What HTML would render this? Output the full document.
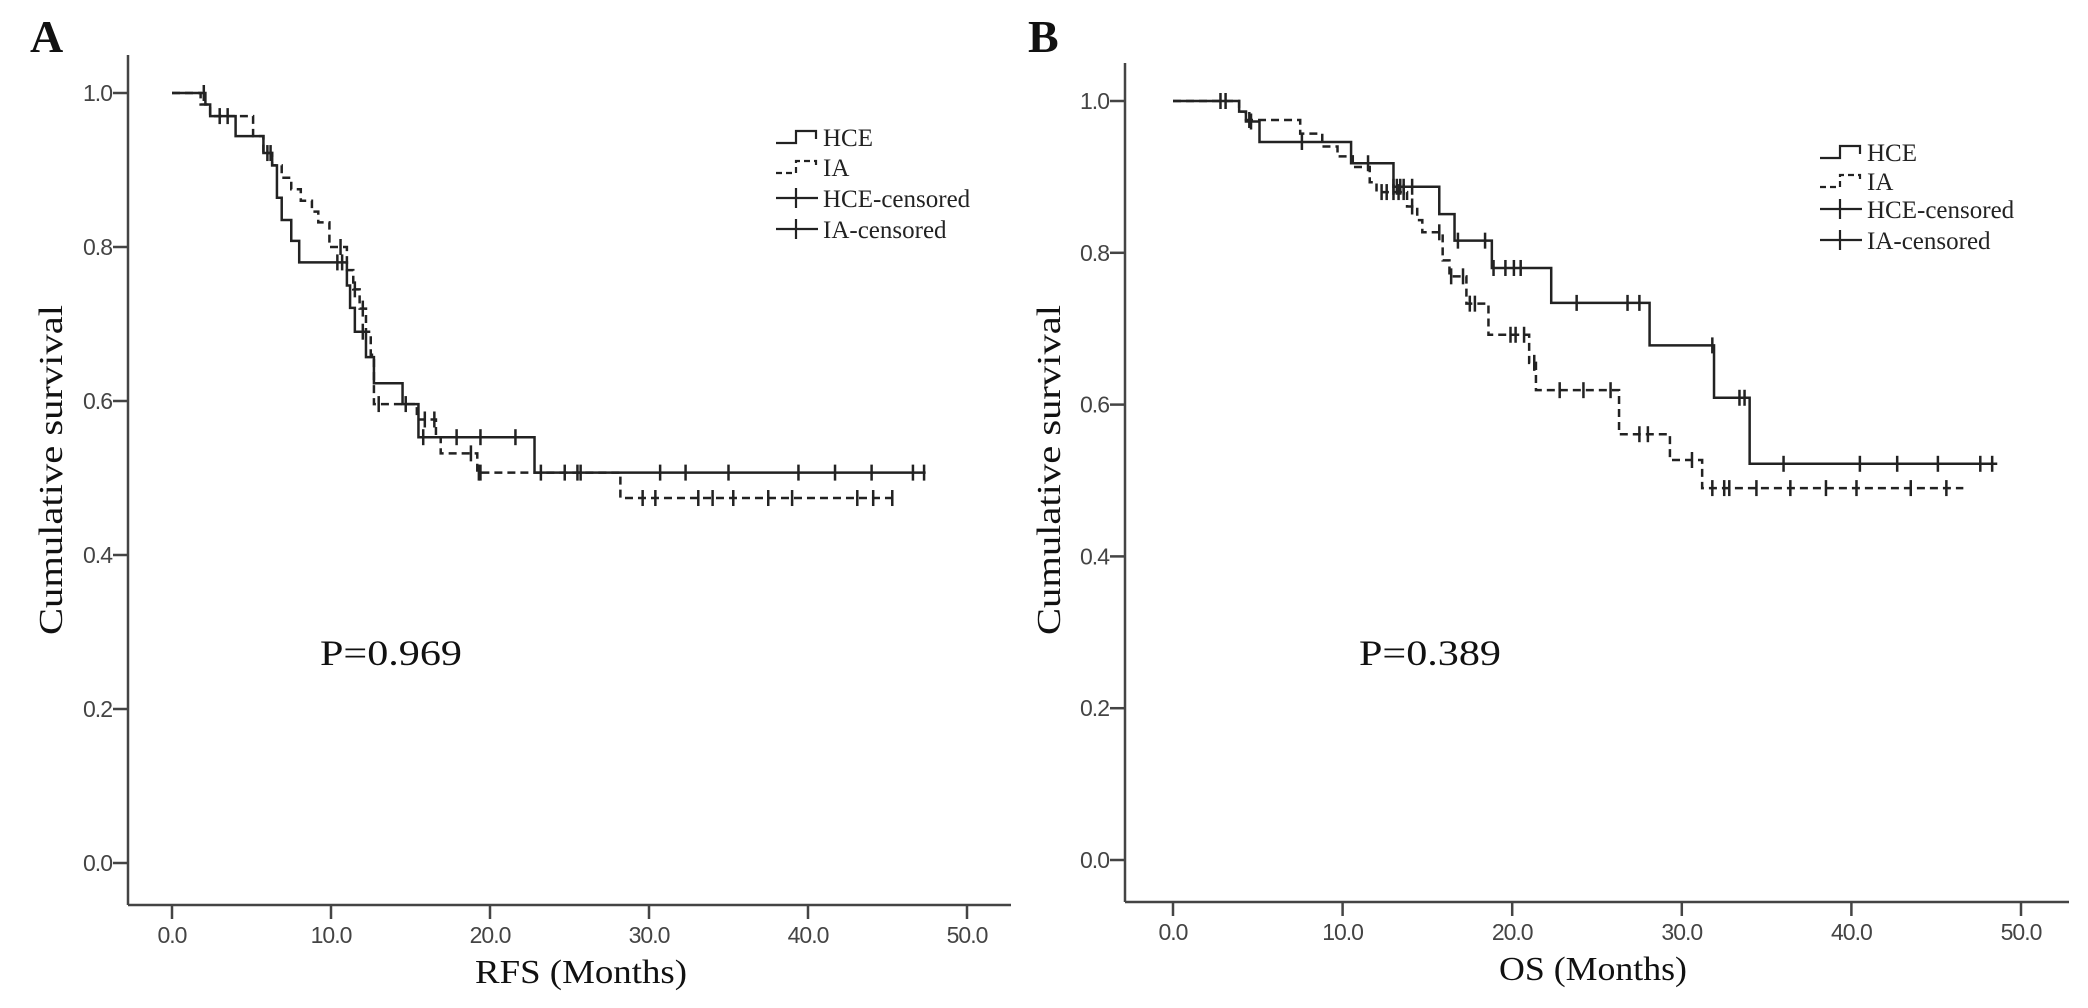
<!DOCTYPE html>
<html><head><meta charset="utf-8">
<style>
html,body{margin:0;padding:0;background:#fff;}
svg{display:block;}
</style></head>
<body>
<svg id="chart" width="2088" height="1008" viewBox="0 0 2088 1008" xmlns="http://www.w3.org/2000/svg">
<rect x="0" y="0" width="2088" height="1008" fill="#fff"/>
<g id="panelA"></g>
<g id="panelB"></g>
</svg>
<script>
// ---- Panel A (RFS) data ----
const xTicks = [0, 10, 20, 30, 40, 50];
const xTickLabels = ["0.0", "10.0", "20.0", "30.0", "40.0", "50.0"];
const yTicks = [0, 0.2, 0.4, 0.6, 0.8, 1.0];
const yTickLabels = ["0.0", "0.2", "0.4", "0.6", "0.8", "1.0"];

const aHceTimes = [2.1, 2.4, 4.0, 5.75, 6.3, 6.6, 6.9, 7.5, 8.0, 11.0, 11.2, 11.5, 12.2, 12.7, 14.5, 15.5, 22.8];
const aHceValues = [0.985, 0.970, 0.944, 0.922, 0.906, 0.864, 0.835, 0.808, 0.780, 0.750, 0.721, 0.690, 0.657, 0.623, 0.596, 0.553, 0.507];
const aHceCensor = [2.0, 3.5, 6.2, 10.4, 10.7, 12.0, 14.7, 15.8, 17.9, 19.4, 21.6, 23.2, 24.7, 30.7, 32.3, 35.0, 39.4, 41.7, 44.0, 46.6, 47.3];
const aHceEnd = 47.4;
const aIaTimes = [1.8, 2.4, 5.1, 5.75, 6.3, 6.9, 7.5, 8.1, 8.8, 9.2, 9.9, 11.0, 11.4, 11.8, 12.2, 12.5, 12.7, 15.4, 16.6, 16.9, 19.2, 28.2];
const aIaValues = [0.985, 0.970, 0.944, 0.922, 0.906, 0.890, 0.875, 0.860, 0.846, 0.832, 0.800, 0.770, 0.745, 0.720, 0.690, 0.660, 0.596, 0.576, 0.553, 0.532, 0.507, 0.474];
const aIaCensor = [3.0, 6.0, 10.6, 11.5, 12.0, 13.0, 15.9, 16.5, 18.8, 19.3, 19.4, 25.5, 25.7, 29.6, 30.4, 33.1, 34.0, 35.3, 37.5, 39.0, 43.1, 44.1, 45.3];
const aIaEnd = 45.5;

// ---- Panel B (OS) data ----
const bHceTimes = [3.9, 4.3, 5.1, 10.5, 13.0, 15.7, 16.6, 18.8, 22.3, 28.1, 31.9, 34.0];
const bHceValues = [0.986, 0.973, 0.946, 0.918, 0.887, 0.851, 0.816, 0.780, 0.734, 0.678, 0.609, 0.522];
const bHceCensor = [2.8, 3.1, 4.6, 7.6, 11.5, 13.0, 13.2, 13.4, 13.6, 14.1, 16.8, 18.4, 18.9, 19.6, 20.1, 20.5, 23.8, 26.8, 27.5, 31.8, 33.4, 33.7, 36.0, 40.5, 42.7, 45.1, 47.6, 48.3];
const bHceEnd = 48.6;
const bIaTimes = [3.9, 4.3, 7.5, 8.8, 9.7, 10.6, 11.6, 12.0, 13.8, 14.4, 14.7, 15.9, 16.3, 17.3, 18.6, 21.0, 21.4, 26.3, 29.3, 31.2];
const bIaValues = [0.986, 0.975, 0.957, 0.940, 0.927, 0.913, 0.893, 0.880, 0.861, 0.843, 0.827, 0.790, 0.769, 0.733, 0.692, 0.655, 0.619, 0.561, 0.527, 0.490];
const bIaCensor = [4.5, 12.3, 12.6, 13.0, 13.3, 13.6, 14.1, 15.7, 16.4, 17.1, 17.5, 17.8, 19.9, 20.2, 20.7, 21.3, 22.8, 24.2, 25.8, 27.5, 28.0, 30.6, 31.8, 32.5, 32.8, 34.4, 36.4, 38.5, 40.3, 43.5, 45.6];
const bIaEnd = 46.6;

const NS = "http://www.w3.org/2000/svg";
function mk(tag, attrs, parent) {
  const e = document.createElementNS(NS, tag);
  for (const k in attrs) e.setAttribute(k, attrs[k]);
  parent.appendChild(e);
  return e;
}
function survAt(times, values, t) {
  let v = 1.0;
  for (let i = 0; i < times.length; i++) if (times[i] <= t) v = values[i];
  return v;
}

function drawPanel(g, cfg) {
  const sx = t => cfg.x0 + (t / 50) * (cfg.x50 - cfg.x0);
  const sy = v => cfg.y0 + v * (cfg.y1 - cfg.y0);
  // axes
  const ya = mk("line", {x1: cfg.axX, y1: cfg.axTop, x2: cfg.axX, y2: cfg.axY, stroke: "#444", "stroke-width": 2.5}, g);
  
  
  const xa = mk("line", {x1: cfg.axX, y1: cfg.axY, x2: cfg.axRight, y2: cfg.axY, stroke: "#444", "stroke-width": 2.5}, g);
  
  
  xTicks.forEach((t, i) => {
    const tk = mk("line", {x1: sx(t), y1: cfg.axY, x2: sx(t), y2: cfg.axY + 14, stroke: "#444", "stroke-width": 2.5}, g);
    
    
    const tl = mk("text", {x: sx(t), y: cfg.axY + 38, "text-anchor": "middle", "font-family": "Liberation Sans, sans-serif", "font-size": 23, fill: "#444", "letter-spacing": "-1"}, g);
    tl.textContent = xTickLabels[i];
    
    
  });
  yTicks.forEach((v, i) => {
    const tk = mk("line", {x1: cfg.axX - 15, y1: sy(v), x2: cfg.axX, y2: sy(v), stroke: "#444", "stroke-width": 2.5}, g);
    
    
    const tl = mk("text", {x: cfg.axX - 16, y: sy(v) + 8, "text-anchor": "end", "font-family": "Liberation Sans, sans-serif", "font-size": 23, fill: "#444", "letter-spacing": "-1"}, g);
    tl.textContent = yTickLabels[i];
    
    
  });
  // curves
  cfg.series.forEach(s => {
    let d = "M" + sx(0) + "," + sy(1);
    let prev = 1;
    for (let i = 0; i < s.times.length; i++) {
      d += " H" + sx(s.times[i]) + " V" + sy(s.values[i]);
      prev = s.values[i];
    }
    d += " H" + sx(s.end);
    const p = mk("path", {d: d, fill: "none", stroke: "#222", "stroke-width": 2.5}, g);
    if (s.dash) p.setAttribute("stroke-dasharray", "8,5");
    
    
    s.censor.forEach(t => {
      const yv = sy(survAt(s.times, s.values, t));
      const c = mk("line", {x1: sx(t), y1: yv - 8, x2: sx(t), y2: yv + 8, stroke: "#222", "stroke-width": 2.5}, g);
      
      
    });
  });
  // labels
  const letter = mk("text", {x: cfg.letterX, y: cfg.letterY, "font-family": "Liberation Serif, serif", "font-size": 46, "font-weight": "bold", fill: "#111"}, g);
  letter.textContent = cfg.letter;
  
  
  const xt = mk("text", {x: cfg.xTitleX, y: cfg.xTitleY, "text-anchor": "middle", "font-family": "Liberation Serif, serif", "font-size": 34, fill: "#111", textLength: cfg.xTitleLen, lengthAdjust: "spacingAndGlyphs"}, g);
  xt.textContent = cfg.xTitle;
  
  
  const yt = mk("text", {x: 0, y: 0, "text-anchor": "middle", "font-family": "Liberation Serif, serif", "font-size": 34, fill: "#111", textLength: 330, lengthAdjust: "spacingAndGlyphs", transform: "translate(" + cfg.yTitleX + "," + cfg.yTitleY + ") rotate(-90)"}, g);
  yt.textContent = "Cumulative survival";
  
  
  const pv = mk("text", {x: cfg.pX, y: cfg.pY, "font-family": "Liberation Serif, serif", "font-size": 36, fill: "#111", textLength: 142, lengthAdjust: "spacingAndGlyphs"}, g);
  pv.textContent = cfg.pText;
  
  
  // legend
  const L = cfg.legend;
  const names = ["HCE", "IA", "HCE-censored", "IA-censored"];
  names.forEach((nm, i) => {
    const y = L.rows[i];
    const x1 = L.x, x2 = L.x + 42;
    let sym;
    if (i < 2) {
      sym = mk("path", {d: "M" + x1 + "," + (y + 6) + " H" + (x1 + 20) + " V" + (y - 6) + " H" + (x2 - 2) + " V" + (y + 2), fill: "none", stroke: "#222", "stroke-width": 2.2}, g);
      if (i === 1) sym.setAttribute("stroke-dasharray", "6,4");
    } else {
      sym = mk("path", {d: "M" + x1 + "," + y + " H" + x2 + " M" + (x1 + 20) + "," + (y - 10) + " V" + (y + 10), fill: "none", stroke: "#222", "stroke-width": 2.2}, g);
    }
    
    
    const t = mk("text", {x: L.x + 47, y: y + 9, "font-family": "Liberation Serif, serif", "font-size": 25, fill: "#222"}, g);
    t.textContent = nm;
    
    
  });
}

drawPanel(document.getElementById("panelA"), {
  x0: 172, x50: 967, y0: 863, y1: 93, axX: 128, axY: 905, axTop: 55, axRight: 1011,
  letter: "A", letterX: 30, letterY: 52,
  xTitle: "RFS (Months)", xTitleX: 581, xTitleY: 983, xTitleLen: 212,
  yTitleX: 62, yTitleY: 470,
  pText: "P=0.969", pX: 320, pY: 665,
  legend: {x: 776, rows: [137, 167, 198, 229]},
  series: [
    {name: "hce", times: aHceTimes, values: aHceValues, censor: aHceCensor, end: aHceEnd, dash: false},
    {name: "ia", times: aIaTimes, values: aIaValues, censor: aIaCensor, end: aIaEnd, dash: true}
  ]
});
drawPanel(document.getElementById("panelB"), {
  x0: 1173, x50: 2021, y0: 860, y1: 101, axX: 1125, axY: 902, axTop: 63, axRight: 2069,
  letter: "B", letterX: 1028, letterY: 52,
  xTitle: "OS (Months)", xTitleX: 1593, xTitleY: 980, xTitleLen: 188,
  yTitleX: 1060, yTitleY: 470,
  pText: "P=0.389", pX: 1359, pY: 665,
  legend: {x: 1820, rows: [152, 181, 209, 240]},
  series: [
    {name: "hce", times: bHceTimes, values: bHceValues, censor: bHceCensor, end: bHceEnd, dash: false},
    {name: "ia", times: bIaTimes, values: bIaValues, censor: bIaCensor, end: bIaEnd, dash: true}
  ]
});
</script>
</body></html>
